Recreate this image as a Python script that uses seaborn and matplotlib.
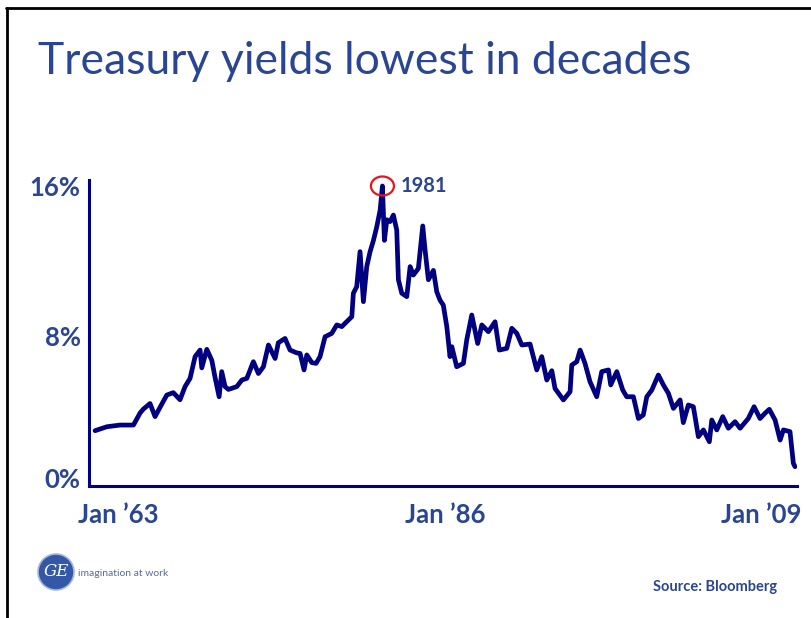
import matplotlib
matplotlib.use("Agg")
import matplotlib.pyplot as plt
import matplotlib.transforms as mtransforms
from matplotlib.patches import Ellipse
from matplotlib.lines import Line2D
import seaborn as sns
import pandas as pd

# ---- data ----
years = [1963.00, 1963.77, 1964.64, 1965.52, 1965.96, 1966.17, 1966.61, 1966.94, 1967.27, 1967.71,
         1968.14, 1968.58, 1968.91, 1969.24, 1969.57, 1969.90, 1970.01, 1970.34, 1970.67, 1970.88,
         1971.15, 1971.32, 1971.54, 1971.76, 1972.31, 1972.64, 1972.97, 1973.40, 1973.73, 1974.06,
         1974.39, 1974.83, 1975.04, 1975.48, 1975.81, 1976.25, 1976.47, 1976.73, 1976.91, 1977.24,
         1977.52, 1977.78, 1978.11, 1978.55, 1978.88, 1979.21, 1979.43, 1979.87, 1979.97, 1980.19,
         1980.41, 1980.63, 1980.85, 1981.07, 1981.29, 1981.51, 1981.73, 1981.88, 1982.01, 1982.17,
         1982.38, 1982.60, 1982.82, 1982.93, 1983.15, 1983.48, 1983.70, 1983.91, 1984.24, 1984.53,
         1984.68, 1984.90, 1985.23, 1985.45, 1985.67, 1985.88, 1986.11, 1986.32, 1986.44, 1986.76,
         1987.20, 1987.42, 1987.75, 1988.14, 1988.41, 1988.84, 1989.28, 1989.56, 1990.05, 1990.38,
         1990.71, 1991.04, 1991.58, 1992.02, 1992.35, 1992.68, 1993.01, 1993.22, 1993.77, 1994.21,
         1994.32, 1994.65, 1994.87, 1995.19, 1995.52, 1995.96, 1996.29, 1996.73, 1996.88, 1997.28,
         1997.67, 1997.93, 1998.37, 1998.70, 1999.02, 1999.25, 1999.58, 2000.01, 2000.34, 2000.67,
         2001.00, 2001.44, 2001.65, 2001.98, 2002.31, 2002.64, 2002.97, 2003.36, 2003.52, 2003.85,
         2004.24, 2004.61, 2005.05, 2005.38, 2005.92, 2006.30, 2006.69, 2007.02, 2007.30, 2007.68,
         2008.01, 2008.23, 2008.66, 2008.88, 2008.99]
yields = [2.95, 3.16, 3.25, 3.25, 3.90, 4.10, 4.40, 3.70, 4.20, 4.85,
          4.98, 4.60, 5.30, 5.74, 6.90, 7.25, 6.30, 7.29, 6.70, 5.80,
          4.76, 6.10, 5.30, 5.15, 5.30, 5.65, 5.74, 6.63, 6.00, 6.36,
          7.52, 6.80, 7.64, 7.87, 7.25, 7.10, 7.07, 6.19, 6.99, 6.58,
          6.54, 6.90, 7.96, 8.14, 8.59, 8.50, 8.68, 9.03, 10.28, 10.63,
          12.50, 9.83, 11.70, 12.50, 13.10, 13.83, 14.72, 16.00, 13.10, 14.20,
          14.10, 14.45, 13.65, 11.00, 10.28, 10.10, 11.70, 11.25, 11.60, 13.87,
          12.60, 11.00, 11.50, 10.36, 9.90, 9.65, 8.50, 6.90, 7.43, 6.36,
          6.54, 7.79, 9.12, 7.60, 8.59, 8.23, 8.76, 7.25, 7.34, 8.41,
          8.14, 7.52, 7.57, 6.19, 6.90, 5.65, 6.15, 5.20, 4.59, 5.03,
          6.45, 6.63, 7.25, 6.54, 5.56, 4.76, 6.10, 6.19, 5.39, 6.10,
          5.12, 4.76, 4.76, 3.60, 3.79, 4.76, 5.12, 5.92, 5.39, 4.94,
          4.14, 4.59, 3.38, 4.32, 4.23, 2.63, 2.99, 2.36, 3.52, 2.99,
          3.70, 3.08, 3.43, 3.08, 3.60, 4.23, 3.60, 3.88, 4.09, 3.52,
          2.45, 2.99, 2.90, 1.21, 1.03]
ytick_vals = [0, 8, 16]
ytick_labels = ["0%", "8%", "16%"]
xtick_vals = [1963, 1986, 2009]
xtick_labels = ["Jan \u201963", "Jan \u201986", "Jan \u201909"]
peak_year = 1981.88
peak_value = 16.0
peak_label = "1981"
title = "Treasury yields lowest in decades"
source = "Source: Bloomberg"

df = pd.DataFrame({"year": years, "yield": yields})

sns.set_style("white")
plt.rcParams["font.family"] = ["Lato", "DejaVu Sans"]

W, H = 812, 618
fig = plt.figure(figsize=(W / 100, H / 100), dpi=100)
ax = fig.add_axes([89 / W, 1 - 486 / H, (797 - 89) / W, (486 - 180) / H])

line_col = "#000080"
text_col = "#2A4593"

sns.lineplot(data=df, x="year", y="yield", ax=ax, color=line_col, linewidth=3.4)

ax.set_xlim(1962.6, 2009.12)
ax.set_ylim(0, 16.32)
ax.set_xlabel("")
ax.set_ylabel("")

for s in ["top", "right"]:
    ax.spines[s].set_visible(False)
for s in ["left", "bottom"]:
    ax.spines[s].set_color(line_col)
    ax.spines[s].set_linewidth(2.2)

ax.set_yticks(ytick_vals)
ax.set_yticklabels(ytick_labels, fontsize=18.5, fontweight="bold", color=text_col)
ax.set_xticks(xtick_vals)
ax.set_xticklabels(xtick_labels, fontsize=18.5, fontweight="bold", color=text_col)
ax.tick_params(axis="both", length=0)
ax.tick_params(axis="y", pad=6)
ax.tick_params(axis="x", pad=12)

xl = ax.get_xticklabels()
xl[0].set_ha("left")
xl[0].set_transform(xl[0].get_transform() + mtransforms.ScaledTranslation(-17 / 100, 0, fig.dpi_scale_trans))
xl[2].set_ha("right")
xl[2].set_transform(xl[2].get_transform() + mtransforms.ScaledTranslation(6 / 100, 0, fig.dpi_scale_trans))
yl = ax.get_yticklabels()
yl[0].set_transform(yl[0].get_transform() + mtransforms.ScaledTranslation(0, 8 / 100, fig.dpi_scale_trans))

# peak marker
ax.add_patch(Ellipse((peak_year, peak_value), width=23 / 15.22, height=19 / 18.75,
                     fill=False, edgecolor="#E8141B", linewidth=1.6, clip_on=False, zorder=5))
ax.annotate(peak_label, xy=(peak_year, peak_value), xytext=(13, 0), textcoords="offset points",
            fontsize=14.5, fontweight="bold", color=text_col, va="center", ha="left",
            annotation_clip=False)

# title
fig.text(38 / W, 1 - 61 / H, title, fontsize=32, color="#2A4593", ha="left", va="center")

# source
fig.text(777 / W, 1 - 587 / H, source, fontsize=10.5, fontweight="bold", color=text_col,
         ha="right", va="center")

# logo
fig.add_artist(Ellipse((56 / W, 1 - 572 / H), width=36 / W, height=36 / H,
                       transform=fig.transFigure, facecolor="#3358A6",
                       edgecolor="#A9B7DA", linewidth=1.2))
fig.text(56 / W, 1 - 572 / H, "GE", fontsize=12, style="italic", color="white",
         ha="center", va="center", family=["DejaVu Serif"])
fig.text(78 / W, 1 - 573 / H, "imagination at work", fontsize=7.5, color="#5A6C9C",
         ha="left", va="center")

# slide frame
fig.add_artist(Line2D([6 / W, 1.0], [1 - 8 / H, 1 - 8 / H], transform=fig.transFigure,
                      color="black", linewidth=2.0))
fig.add_artist(Line2D([7 / W, 7 / W], [0, 1 - 8 / H], transform=fig.transFigure,
                      color="black", linewidth=2.0))

fig.savefig("out.png", dpi=100)
